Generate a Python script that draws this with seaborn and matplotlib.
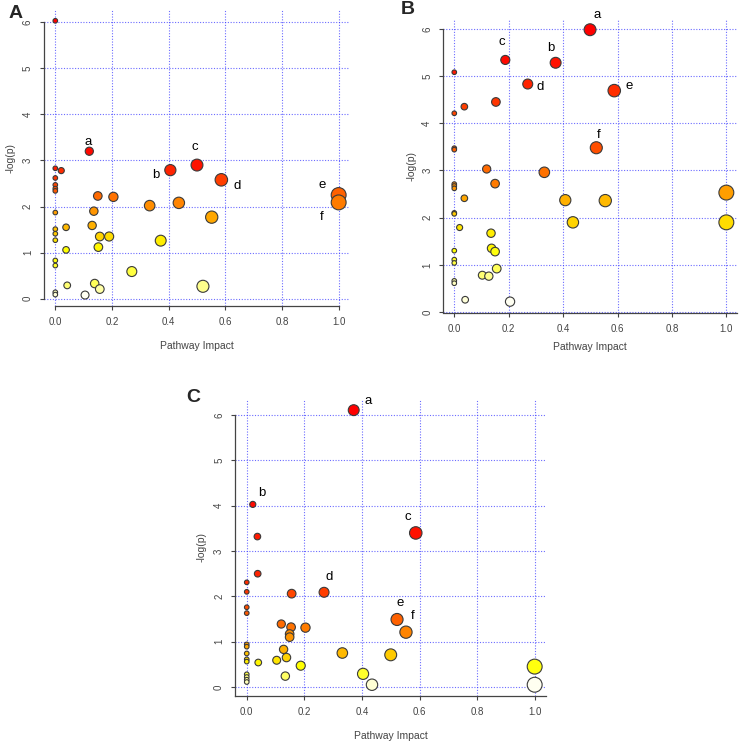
import colorsys
import numpy as np
import pandas as pd
import matplotlib
matplotlib.use("Agg")
import matplotlib.pyplot as plt
import seaborn as sns

# ---- data (impact, -log(p), letter tag) ----
a_impact = [0, 0.12, 0.5, 0, 0.406, 0.021, 0, 0.586, 0, 0, 0, 1.0, 0.15, 0.205, 1.0,
            0.436, 0.333, 0.136, 0, 0.552, 0.13, 0.038, 0, 0, 0.157, 0.19, 0, 0.372,
            0.152, 0.038, 0, 0, 0.27, 0.139, 0.042, 0.521, 0.157, 0, 0, 0.105]
a_logp = [6.03, 3.20, 2.90, 2.83, 2.79, 2.78, 2.62, 2.58, 2.47, 2.39, 2.34, 2.25, 2.23,
          2.21, 2.09, 2.08, 2.02, 1.90, 1.87, 1.77, 1.59, 1.55, 1.51, 1.41, 1.35, 1.35,
          1.27, 1.26, 1.12, 1.06, 0.83, 0.72, 0.59, 0.33, 0.29, 0.27, 0.21, 0.14, 0.09, 0.08]
a_tag = ['', 'a', 'c', '', 'b', '', '', 'd', '', '', '', 'e', '', '', 'f'] + [''] * 25

b_impact = [0.499, 0.1875, 0.3725, 0, 0.27, 0.588, 0.153, 0.037, 0, 0.522, 0, 0, 0.119,
            0.331, 0.15, 0, 0, 0, 1.0, 0.037, 0.408, 0.555, 0, 0, 0.436, 1.0, 0.0196,
            0.135, 0.137, 0, 0.15, 0, 0, 0.156, 0.103, 0.127, 0, 0, 0.04, 0.205]
b_logp = [5.98, 5.34, 5.28, 5.08, 4.83, 4.69, 4.45, 4.35, 4.21, 3.48, 3.47, 3.44, 3.03,
          2.96, 2.72, 2.71, 2.67, 2.62, 2.53, 2.41, 2.37, 2.36, 2.10, 2.08, 1.90, 1.90,
          1.79, 1.67, 1.35, 1.30, 1.28, 1.11, 1.04, 0.92, 0.78, 0.76, 0.66, 0.61, 0.26, 0.22]
b_tag = ['a', 'c', 'b', '', 'd', 'e', '', '', '', 'f'] + [''] * 30

c_impact = [0.3715, 0.021, 0.587, 0.037, 0.038, 0, 0, 0.2685, 0.156, 0, 0, 0.522, 0.12,
            0.154, 0.204, 0.553, 0.149, 0.149, 0, 0, 0.128, 0.332, 0, 0.5, 0.138, 0,
            0.104, 0, 0.04, 0.1875, 1.0, 0.404, 0, 0.134, 0, 0, 0, 0.435, 1.0]
c_logp = [6.11, 4.03, 3.40, 3.32, 2.50, 2.31, 2.10, 2.09, 2.06, 1.76, 1.63, 1.49, 1.39,
          1.32, 1.31, 1.21, 1.17, 1.10, 0.94, 0.89, 0.83, 0.75, 0.74, 0.71, 0.65, 0.61,
          0.59, 0.56, 0.54, 0.47, 0.45, 0.29, 0.28, 0.24, 0.22, 0.16, 0.11, 0.05, 0.05]
c_tag = ['a', 'b', 'c', '', '', '', '', 'd', '', '', '', 'e', '', '', '', 'f'] + [''] * 23

ticks_x = [0.0, 0.2, 0.4, 0.6, 0.8, 1.0]
ticks_y = [0, 1, 2, 3, 4, 5, 6]


def heat_colors(n):
    # same ramp as R's heat.colors()
    j = n // 4
    i = n - j
    cols = [colorsys.hsv_to_rgb((1 / 6) * k / (i - 1), 1, 1) for k in range(i)]
    for s in np.linspace(1 - 1 / (2 * j), 1 / (2 * j), j):
        cols.append(colorsys.hsv_to_rgb(1 / 6, s, 1))
    return cols


sns.set_style("white")
plt.rcParams['font.family'] = ['Liberation Sans', 'DejaVu Sans']

fig = plt.figure(figsize=(7.39, 7.43), dpi=100)
axA = fig.add_axes([0.0595, 0.5880, 0.4141, 0.3989])
axB = fig.add_axes([0.6000, 0.5794, 0.3976, 0.3952])
axC = fig.add_axes([0.3183, 0.0638, 0.4208, 0.3988])

# letter offsets in points from the tagged bubble
offsets = {
    'A': {'a': (-1, 7), 'b': (-10.4, -3.7), 'c': (-1.4, 12.9), 'd': (11.2, -4.7),
          'e': (-12, 7), 'f': (-12.2, -10.6)},
    'B': {'a': (5.1, 10.5), 'b': (-3.4, 10.9), 'c': (-2.4, 12.9), 'd': (9.2, -2.4),
          'e': (10.4, 3), 'f': (1.4, 9.5)},
    'C': {'a': (10.7, 6.5), 'b': (6.2, 8.5), 'c': (-5.4, 11.7), 'd': (3.8, 11.1),
          'e': (2.5, 11.7), 'f': (4.6, 11.7)},
}

panels = [
    ('A', axA, a_impact, a_logp, a_tag, (-0.16, 6.27)),
    ('B', axB, b_impact, b_logp, b_tag, (-0.01, 6.21)),
    ('C', axC, c_impact, c_logp, c_tag, (-0.19, 6.35)),
]

for name, ax, imp, lp, tag, ylim in panels:
    df = pd.DataFrame({'impact': imp, 'logp': lp, 'tag': tag})
    df = df.sort_values('logp', ascending=False, kind='mergesort').reset_index(drop=True)
    df['pid'] = ['p%d' % k for k in range(len(df))]
    df['area'] = (0.72 * (4.6 + 10.3 * np.sqrt(df['impact']))) ** 2
    pal = dict(zip(df['pid'], heat_colors(len(df))))
    amin, amax = df['area'].min(), df['area'].max()

    sns.scatterplot(data=df, x='impact', y='logp', hue='pid', palette=pal,
                    size='area', sizes=(amin, amax), size_norm=(amin, amax),
                    edgecolor='#3a3a3a', linewidth=0.8, legend=False, ax=ax,
                    zorder=3, clip_on=False)

    for _, row in df[df['tag'] != ''].iterrows():
        ax.annotate(row['tag'], (row['impact'], row['logp']),
                    xytext=offsets[name][row['tag']], textcoords='offset points',
                    ha='center', va='center', fontsize=9.5, color='black')

    ax.set_xlim(-0.04, 1.04)
    ax.set_ylim(*ylim)
    ax.set_xticks(ticks_x)
    ax.set_xticklabels(['%.1f' % t for t in ticks_x])
    ax.set_yticks(ticks_y)
    ax.set_yticklabels([str(t) for t in ticks_y])
    ax.set_axisbelow(True)
    ax.grid(True, color='#3a3aff', linestyle=(0, (1, 1.5)), linewidth=0.8, alpha=0.75)

    for sp in ['top', 'right']:
        ax.spines[sp].set_visible(False)
    for sp in ['left', 'bottom']:
        ax.spines[sp].set_color('#444444')
        ax.spines[sp].set_linewidth(0.9)

    ax.tick_params(direction='out', length=3, width=0.8, color='#444444',
                   labelsize=7, labelcolor='#444444', pad=5, left=True, bottom=True)
    ax.tick_params(axis='y', labelrotation=90)
    for lab in ax.get_yticklabels():
        lab.set_va('center')

    ax.set_xlabel('Pathway Impact', fontsize=7.5, color='#444444')
    ax.set_ylabel('-log(p)', fontsize=7.5, color='#444444')
    ax.yaxis.set_label_coords(-0.092, 0.5)

axA.spines['left'].set_bounds(0, 6)
axA.spines['bottom'].set_bounds(0, 1)
axB.spines['left'].set_bounds(0, 6)
axC.spines['left'].set_bounds(-0.19, 6)

axA.xaxis.set_label_coords(0.5, -0.118)
axB.xaxis.set_label_coords(0.5, -0.10)
axC.xaxis.set_label_coords(0.5, -0.118)

fig.text(16 / 739, 1 - 13 / 743, 'A', fontsize=14, fontweight='bold', ha='center', va='center')
fig.text(408 / 739, 1 - 9 / 743, 'B', fontsize=14, fontweight='bold', ha='center', va='center')
fig.text(193 / 739, 1 - 398 / 743, 'C', fontsize=14, fontweight='bold', ha='center', va='center')

fig.savefig('out.png', dpi=100)
